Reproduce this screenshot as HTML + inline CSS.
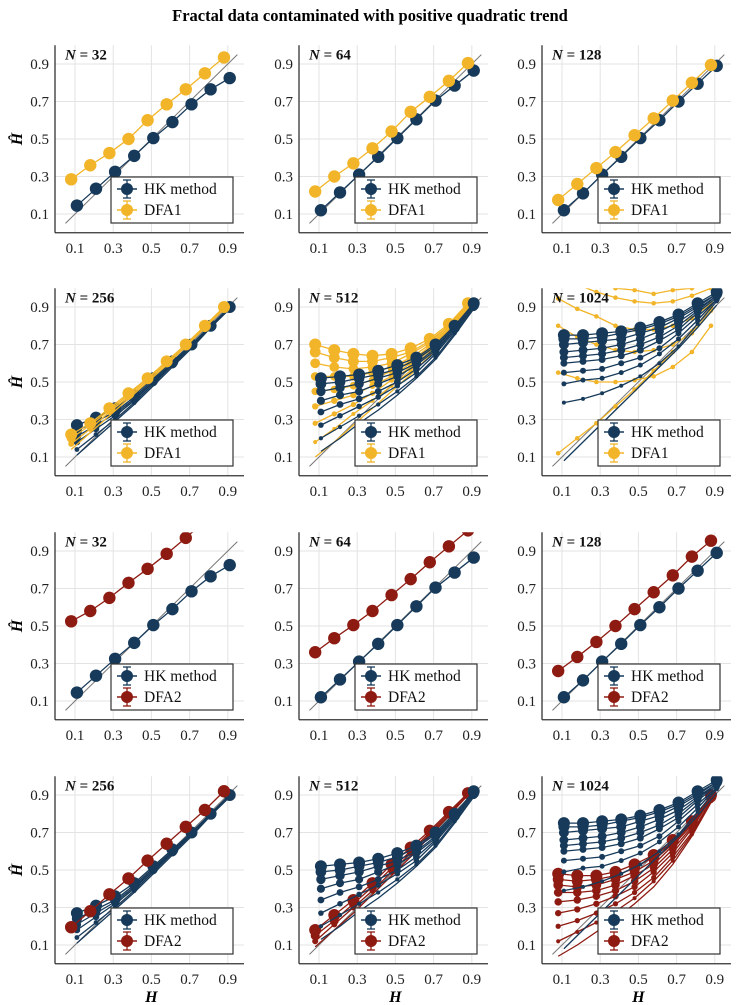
<!DOCTYPE html>
<html><head><meta charset="utf-8">
<style>
body{margin:0;background:#fff;}
svg{display:block;font-family:"Liberation Serif",serif;}
</style></head>
<body>
<svg id="fig" width="741" height="1005" viewBox="0 0 741 1005" xmlns="http://www.w3.org/2000/svg">
<text x="370" y="21" text-anchor="middle" font-size="16.5" font-weight="bold">Fractal data contaminated with positive quadratic trend</text>
</svg>
<script>
const hValues = [0.1,0.2,0.3,0.4,0.5,0.6,0.7,0.8,0.9];
const xTicks = [0.1,0.3,0.5,0.7,0.9];
const yTicks = [0.1,0.3,0.5,0.7,0.9];
const panelN = [32,64,128,256,512,1024,32,64,128,256,512,1024];
const panelMethod = ["DFA1","DFA1","DFA1","DFA1","DFA1","DFA1","DFA2","DFA2","DFA2","DFA2","DFA2","DFA2"];

const hk32 = [[.145,.235,.325,.41,.505,.59,.685,.765,.825]];
const hk64 = [[.12,.215,.31,.405,.505,.605,.705,.785,.865]];
const hk128 = [[.12,.21,.31,.405,.505,.60,.70,.795,.89]];
const hk256 = [
 [.27,.31,.36,.43,.52,.61,.70,.80,.90],
 [.24,.29,.34,.42,.51,.60,.70,.80,.90],
 [.21,.27,.33,.41,.50,.60,.70,.80,.90],
 [.18,.25,.32,.40,.50,.59,.69,.79,.90],
 [.14,.22,.30,.39,.49,.59,.69,.79,.90],
 [.11,.20,.29,.38,.48,.58,.68,.79,.89]];
const hk512 = [
 [.52,.53,.54,.56,.59,.63,.70,.80,.92],
 [.49,.50,.52,.54,.57,.62,.69,.79,.91],
 [.45,.47,.49,.52,.55,.60,.68,.79,.91],
 [.40,.43,.45,.49,.53,.59,.67,.78,.90],
 [.34,.38,.41,.45,.50,.57,.66,.78,.90],
 [.27,.32,.37,.42,.48,.55,.65,.77,.90],
 [.20,.26,.32,.38,.45,.53,.63,.76,.89],
 [.13,.20,.28,.35,.43,.52,.62,.75,.89]];
const hk1024 = [
 [.75,.75,.76,.77,.79,.82,.86,.92,.98],
 [.73,.73,.74,.76,.78,.81,.85,.91,.97],
 [.70,.71,.72,.73,.76,.79,.84,.90,.97],
 [.66,.67,.68,.70,.73,.77,.82,.89,.96],
 [.63,.64,.65,.67,.70,.74,.80,.88,.96],
 [.60,.61,.62,.64,.67,.72,.78,.87,.95],
 [.55,.56,.57,.60,.63,.68,.76,.85,.94],
 [.49,.51,.52,.55,.59,.65,.73,.83,.94],
 [.39,.41,.44,.48,.53,.60,.69,.81,.93],
 [.08,.18,.28,.38,.48,.58,.68,.79,.91]];

const dfa1_32 = [[.285,.36,.425,.50,.60,.685,.765,.85,.935]];
const dfa1_64 = [[.22,.30,.37,.45,.54,.645,.725,.81,.905]];
const dfa1_128 = [[.175,.26,.345,.43,.52,.61,.705,.80,.895]];
const dfa1_256 = [
 [.22,.28,.36,.44,.52,.61,.70,.80,.90],
 [.20,.27,.35,.43,.52,.61,.70,.79,.90],
 [.17,.25,.34,.42,.51,.60,.69,.79,.90],
 [.14,.23,.32,.41,.50,.59,.69,.79,.89]];
const dfa1_512 = [
 [.70,.67,.65,.64,.65,.68,.73,.81,.92],
 [.66,.63,.61,.61,.63,.66,.72,.80,.92],
 [.60,.58,.57,.58,.60,.65,.71,.80,.91],
 [.53,.53,.53,.55,.58,.63,.70,.79,.91],
 [.45,.46,.48,.51,.56,.61,.69,.79,.91],
 [.37,.40,.43,.48,.53,.60,.68,.78,.90],
 [.28,.33,.38,.44,.51,.58,.67,.78,.90],
 [.18,.25,.33,.40,.48,.56,.66,.77,.90],
 [.10,.18,.27,.36,.45,.54,.64,.76,.89]];
const dfa1_1024 = [
 [1.1,1.06,1.03,1.0,.99,.97,.99,1.0,1.02],
 [1.06,1.02,.98,.95,.93,.92,.93,.96,1.0],
 [.945,.89,.85,.80,.78,.78,.80,.84,.92],
 [.80,.74,.70,.67,.66,.67,.70,.76,.88],
 [.55,.52,.50,.50,.51,.53,.58,.66,.80],
 [.12,.20,.28,.37,.46,.56,.66,.77,.90]];

const dfa2_32 = [[.525,.58,.65,.73,.805,.885,.97,1.06,1.15]];
const dfa2_64 = [[.36,.435,.505,.58,.665,.75,.84,.925,1.01]];
const dfa2_128 = [[.26,.335,.415,.50,.59,.68,.77,.87,.955]];
const dfa2_256 = [[.195,.28,.37,.455,.55,.64,.73,.82,.92]];
const dfa2_512 = [
 [.18,.26,.34,.43,.53,.62,.71,.81,.91],
 [.15,.23,.32,.41,.51,.60,.70,.80,.91],
 [.12,.21,.30,.39,.49,.59,.69,.79,.90],
 [.09,.18,.27,.37,.47,.57,.68,.79,.90]];
const dfa2_1024 = [
 [.48,.47,.47,.49,.53,.58,.66,.76,.90],
 [.45,.44,.45,.47,.51,.57,.65,.76,.89],
 [.42,.41,.42,.45,.49,.55,.64,.75,.89],
 [.38,.38,.39,.42,.47,.53,.63,.74,.89],
 [.33,.34,.36,.39,.44,.51,.61,.73,.88],
 [.27,.29,.32,.36,.41,.49,.59,.72,.88],
 [.20,.23,.27,.32,.38,.46,.57,.70,.87],
 [.12,.17,.22,.28,.35,.44,.55,.69,.87],
 [.04,.10,.17,.24,.32,.41,.53,.68,.86]];

const hkSets = [hk32,hk64,hk128,hk256,hk512,hk1024,hk32,hk64,hk128,hk256,hk512,hk1024];
const dfaSets = [dfa1_32,dfa1_64,dfa1_128,dfa1_256,dfa1_512,dfa1_1024,dfa2_32,dfa2_64,dfa2_128,dfa2_256,dfa2_512,dfa2_1024];

const NAVY="#173a5a", GOLD="#f2b529", RED="#8e1b12";
const NS="http://www.w3.org/2000/svg";
const svg=document.getElementById('fig');
function mk(tag,attrs,parent){const e=document.createElementNS(NS,tag);for(const k in attrs)e.setAttribute(k,attrs[k]);(parent||svg).appendChild(e);return e;}

const colX=[55,299,542], rowY09=[64,307,551,795];
const XS=191, YS=187.5;

for(let p=0;p<12;p++){
  const r=Math.floor(p/3), c=p%3;
  const ax=colX[c], y09=rowY09[r];
  const sx=v=>ax+20+(v-0.1)*XS;
  const sy=v=>y09+(0.9-v)*YS;
  const top=sy(1.0), bot=sy(0.0), right=ax+189;
  const g=mk('g',{});
  
  
  const cid='clip'+p;
  const cp=mk('clipPath',{id:cid},g);
  mk('rect',{x:ax,y:top,width:right-ax,height:bot-top},cp);
  xTicks.forEach(t=>{const l=mk('line',{x1:sx(t),x2:sx(t),y1:top,y2:bot,stroke:'#e3e3e3','stroke-width':1},g);
    });
  yTicks.forEach(t=>{const l=mk('line',{x1:ax,x2:right,y1:sy(t),y2:sy(t),stroke:'#e3e3e3','stroke-width':1},g);
    });
  const xa=mk('line',{x1:ax,x2:right,y1:bot,y2:bot,stroke:'#333','stroke-width':1.3},g);
  
  const ya=mk('line',{x1:ax,x2:ax,y1:top,y2:bot,stroke:'#333','stroke-width':1.3},g);
  
  xTicks.forEach(t=>{const tx=mk('text',{x:sx(t),y:bot+20,'text-anchor':'middle','font-size':15,fill:'#222'},g);tx.textContent=t.toFixed(1);
    });
  yTicks.forEach(t=>{const tx=mk('text',{x:ax-6,y:sy(t)+5,'text-anchor':'end','font-size':15,fill:'#222'},g);tx.textContent=t.toFixed(1);
    });
  const pg=mk('g',{'clip-path':'url(#'+cid+')'},g);
  const dg=mk('line',{x1:sx(0.05),y1:sy(0.05),x2:sx(0.95),y2:sy(0.95),stroke:'#777','stroke-width':1},pg);
  
  const dcol=panelMethod[p]==='DFA1'?GOLD:RED;
  function drawSet(set,col,dx,name,small){
    const n=set.length;
    for(let k=n-1;k>=0;k--){
      const vals=set[k];
      let rad = n===1?6.2:(small?2.3:(1.5+4.5*(n-1-k)/(n-1)));
      if(n>1 && k===n-1 && !small) rad=0;
      const pts=vals.map((v,i)=>sx(hValues[i]+dx)+','+sy(v)).join(' ');
      const pl=mk('polyline',{points:pts,fill:'none',stroke:col,'stroke-width':1.3},pg);
      
      if(rad>0) vals.forEach((v,i)=>{const cc=mk('circle',{cx:sx(hValues[i]+dx),cy:sy(v),r:rad,fill:col},pg);
        });
    }
  }
  const hkTop = (p%6)>=4;
  const smallD = (p===5);
  if(hkTop){drawSet(dfaSets[p],dcol,-0.02,panelMethod[p].toLowerCase(),smallD);drawSet(hkSets[p],NAVY,0.01,'hk');}
  else{drawSet(hkSets[p],NAVY,0.01,'hk');drawSet(dfaSets[p],dcol,-0.02,panelMethod[p].toLowerCase(),false);}
  const nl=mk('text',{x:ax+10,y:top+14,'font-size':15,'font-weight':'bold',fill:'#111'},g);
  nl.innerHTML='<tspan font-style="italic">N</tspan> = '+panelN[p];
  
  const lg=mk('g',{},g);
  
  const lx=ax+56, ly=y09+113;
  mk('rect',{x:lx,y:ly,width:122,height:46,fill:'#fff',stroke:'#333','stroke-width':1.2},lg);
  [[NAVY,'HK method'],[dcol,panelMethod[p]]].forEach((e,i)=>{
    const ey=ly+12+i*21;
    const eg=mk('g',{},lg);
    
    mk('line',{x1:lx+6,x2:lx+26,y1:ey,y2:ey,stroke:e[0],'stroke-width':1.5},eg);
    mk('line',{x1:lx+16,x2:lx+16,y1:ey-9,y2:ey+9,stroke:e[0],'stroke-width':1.3},eg);
    mk('line',{x1:lx+12,x2:lx+20,y1:ey-9,y2:ey-9,stroke:e[0],'stroke-width':1.3},eg);
    mk('line',{x1:lx+12,x2:lx+20,y1:ey+9,y2:ey+9,stroke:e[0],'stroke-width':1.3},eg);
    mk('circle',{cx:lx+16,cy:ey,r:6,fill:e[0]},eg);
    const t=mk('text',{x:lx+33,y:ey+5,'font-size':15.5,fill:'#111'},eg);t.textContent=e[1];
  });
  if(c===0){const yl=mk('text',{x:0,y:0,'font-size':16,'font-weight':'bold','font-style':'italic','text-anchor':'middle',transform:'translate(22,'+sy(0.5)+') rotate(-90)'},g);
    yl.textContent='Ĥ';}
  if(r===3){const xl=mk('text',{x:sx(0.5),y:bot+38,'font-size':16,'font-weight':'bold','font-style':'italic','text-anchor':'middle'},g);
    xl.textContent='H';}
}
</script>
</body></html>
